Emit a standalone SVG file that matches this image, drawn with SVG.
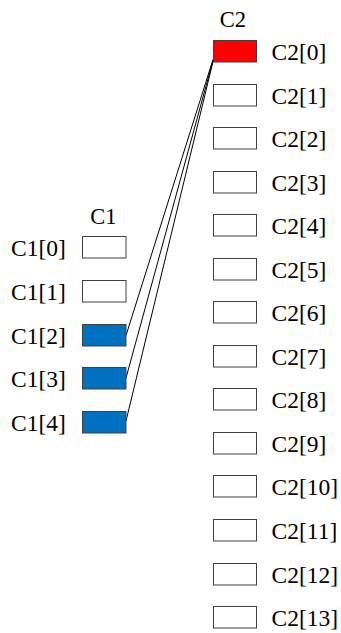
<svg xmlns="http://www.w3.org/2000/svg" width="341" height="633" viewBox="0 0 341 633">
<style>
text{font-family:'Liberation Serif','Times New Roman',serif;font-size:23.5px;fill:#000}
.h{font-size:22.5px}
.b{fill:#fff;stroke:#404040;stroke-width:1}
.blue{fill:#0070C0;stroke:#404040;stroke-width:1}
.red{fill:#FF0000;stroke:#404040;stroke-width:1}
.c{stroke:#000;stroke-width:1;fill:none}
</style>
<rect width="341" height="633" fill="#fff"/>
<text class="h" x="103.5" y="224" text-anchor="middle">C1</text>
<text class="h" x="233" y="27" text-anchor="middle">C2</text>
<g id="connectors">
<line class="c" x1="213" y1="59.5" x2="126" y2="335.5"/>
<line class="c" x1="213" y1="60.5" x2="126" y2="378"/>
<line class="c" x1="213" y1="61.5" x2="126" y2="421"/>
</g>
<g id="C1_0"><rect class="b" x="82.5" y="236.5" width="43.5" height="21.5"/><text x="11" y="256">C1[0]</text></g>
<g id="C1_1"><rect class="b" x="82.5" y="280.5" width="43.5" height="21.5"/><text x="11" y="300">C1[1]</text></g>
<g id="C1_2"><rect class="blue" x="82.5" y="324.5" width="43.5" height="21.5"/><text x="11" y="344">C1[2]</text></g>
<g id="C1_3"><rect class="blue" x="82.5" y="367.5" width="43.5" height="21.5"/><text x="11" y="387">C1[3]</text></g>
<g id="C1_4"><rect class="blue" x="82.5" y="411.5" width="43.5" height="21.5"/><text x="11" y="431">C1[4]</text></g>
<g id="C2_0"><rect class="red" x="213.5" y="40.5" width="43" height="21.5"/><text x="271.5" y="60">C2[0]</text></g>
<g id="C2_1"><rect class="b" x="213.5" y="84.5" width="43" height="21.5"/><text x="271.5" y="104">C2[1]</text></g>
<g id="C2_2"><rect class="b" x="213.5" y="127.5" width="43" height="21.5"/><text x="271.5" y="147">C2[2]</text></g>
<g id="C2_3"><rect class="b" x="213.5" y="171.5" width="43" height="21.5"/><text x="271.5" y="191">C2[3]</text></g>
<g id="C2_4"><rect class="b" x="213.5" y="214.5" width="43" height="21.5"/><text x="271.5" y="234">C2[4]</text></g>
<g id="C2_5"><rect class="b" x="213.5" y="258.5" width="43" height="21.5"/><text x="271.5" y="278">C2[5]</text></g>
<g id="C2_6"><rect class="b" x="213.5" y="301.5" width="43" height="21.5"/><text x="271.5" y="321">C2[6]</text></g>
<g id="C2_7"><rect class="b" x="213.5" y="345.5" width="43" height="21.5"/><text x="271.5" y="365">C2[7]</text></g>
<g id="C2_8"><rect class="b" x="213.5" y="388.5" width="43" height="21.5"/><text x="271.5" y="408">C2[8]</text></g>
<g id="C2_9"><rect class="b" x="213.5" y="432.5" width="43" height="21.5"/><text x="271.5" y="452">C2[9]</text></g>
<g id="C2_10"><rect class="b" x="213.5" y="475.5" width="43" height="21.5"/><text x="271.5" y="495">C2[10]</text></g>
<g id="C2_11"><rect class="b" x="213.5" y="519.5" width="43" height="21.5"/><text x="271.5" y="539">C2[11]</text></g>
<g id="C2_12"><rect class="b" x="213.5" y="563.5" width="43" height="21.5"/><text x="271.5" y="583">C2[12]</text></g>
<g id="C2_13"><rect class="b" x="213.5" y="606.5" width="43" height="21.5"/><text x="271.5" y="626">C2[13]</text></g>
</svg>
